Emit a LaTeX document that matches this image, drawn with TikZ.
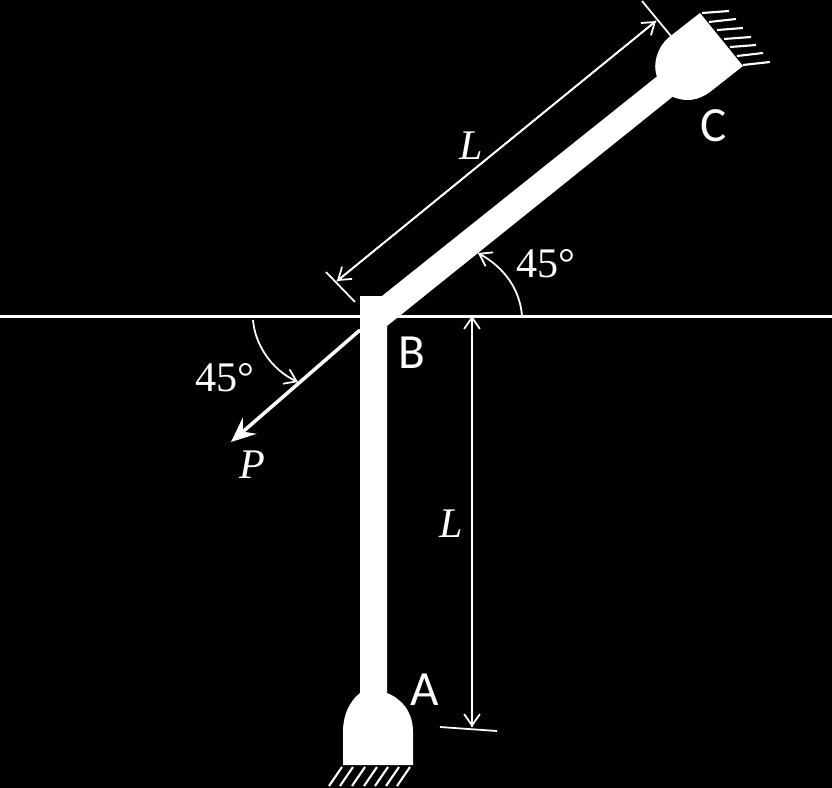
\documentclass[tikz,border=0pt]{standalone}
\usepackage{fontspec}
\setmainfont{Liberation Serif}
\newfontfamily\labelfont{Carlito}
\usetikzlibrary{arrows.meta}

\tikzset{
    member/.style={fill=white,draw=none},
    hatchline/.style={white,line width=1.2pt},
    dimline/.style={white,line width=1pt},
    dimarrow/.style={dimline,-{Straight Barb[length=6.5pt,width=9pt,line width=1pt]}},
    pointlabel/.style={white,font=\labelfont\fontsize{28}{28}\selectfont},
    dimlabel/.style={white,font=\fontsize{24}{24}\selectfont}
}

\begin{document}
\begin{tikzpicture}[x=0.02cm,y=-0.02cm,> = stealth]
            \useasboundingbox (0,0) rectangle (832,788);
            \fill[black] (0,0) rectangle (832,788);
            % horizontal reference line
            \draw[white,line width=1.9pt] (0,316.5) -- (832,316.5);
            % members
            \fill[member] (360,296) -- (382,296) -- (670,66) -- (686,86) -- (387,326) -- (387,700) -- (360,700) -- cycle;
            \fill[member] (343,765) -- (343,732) .. controls (343,712) and (352,699) .. (360,693) -- (387,693) .. controls (402,699) and (413,712) .. (413,732) -- (413,765) -- cycle;
            \fill[member] (668,38) -- (700,13) -- (743,66) -- (710,92) .. controls (698,101) and (685,102) .. (673,97) -- (657,77) .. controls (652,63) and (658,47) .. (668,38) -- cycle;
            % hatching at A
            \draw[hatchline] (342,767) -- (329,786);
            \draw[hatchline] (353,767) -- (340,786);
            \draw[hatchline] (365,767) -- (352,786);
            \draw[hatchline] (377,767) -- (364,786);
            \draw[hatchline] (388,767) -- (375,786);
            \draw[hatchline] (399,767) -- (386,786);
            \draw[hatchline] (410,767) -- (397,786);
            % hatching at C
            \draw[hatchline] (702,13) -- (729,11);
            \draw[hatchline] (709,22) -- (736,19);
            \draw[hatchline] (717,30) -- (743,28);
            \draw[hatchline] (724,39) -- (751,37);
            \draw[hatchline] (730,47) -- (756,45);
            \draw[hatchline] (737,56) -- (763,53);
            \draw[hatchline] (743,65) -- (770,62);
            % load
            \coordinate (loadstart) at (360,330);
            \coordinate (loadend) at (231,442);
            \draw[white,line width=2pt,-{Stealth[length=14pt,width=12pt,inset=5pt]}] (loadstart) -- (loadend);
            % dimension BC
            \coordinate (tickBa) at (326,272);
            \coordinate (tickBb) at (355,302);
            \coordinate (tickCa) at (642,1);
            \coordinate (tickCb) at (671,36);
            \coordinate (dimB) at (337,281);
            \coordinate (dimC) at (656,21);
            \draw[dimline] (tickBa) -- (tickBb);
            \draw[dimline] (tickCa) -- (tickCb);
            \draw[dimarrow] (dimC) -- (dimB);
            \draw[dimarrow] (dimB) -- (dimC);
            % dimension AB
            \coordinate (dimtop) at (472,316);
            \coordinate (dimbot) at (472,727);
            \coordinate (tickAa) at (440,727);
            \coordinate (tickAb) at (497,731);
            \draw[dimline] (tickAa) -- (tickAb);
            \draw[dimarrow] (dimtop) -- (dimbot);
            \draw[dimarrow] (dimbot) -- (dimtop);
            % angles
            \coordinate (arcRa) at (522,316);
            \coordinate (arcRb) at (478,253);
            \coordinate (arcLa) at (253,320);
            \coordinate (arcLb) at (298,382);
            \draw[dimarrow] (arcRa) .. controls (520,290) and (505,268) .. (arcRb);
            \draw[dimarrow] (arcLa) .. controls (255,345) and (272,370) .. (arcLb);
            % labels
            \node[pointlabel] (labelA) at (425,690) {A};
            \node[pointlabel] (labelB) at (412,353) {B};
            \node[pointlabel] (labelC) at (714,126) {C};
            \node[dimlabel] (labelBC) at (471,146) {\textit{L}};
            \node[dimlabel] (labelAB) at (451,524) {\textit{L}};
            \node[dimlabel] (labelP) at (252,465) {\textit{P}};
            \node[dimlabel] (angleR) at (546,264) {45°};
            \node[dimlabel] (angleL) at (225,378) {45°};
        \end{tikzpicture}
\end{document}
